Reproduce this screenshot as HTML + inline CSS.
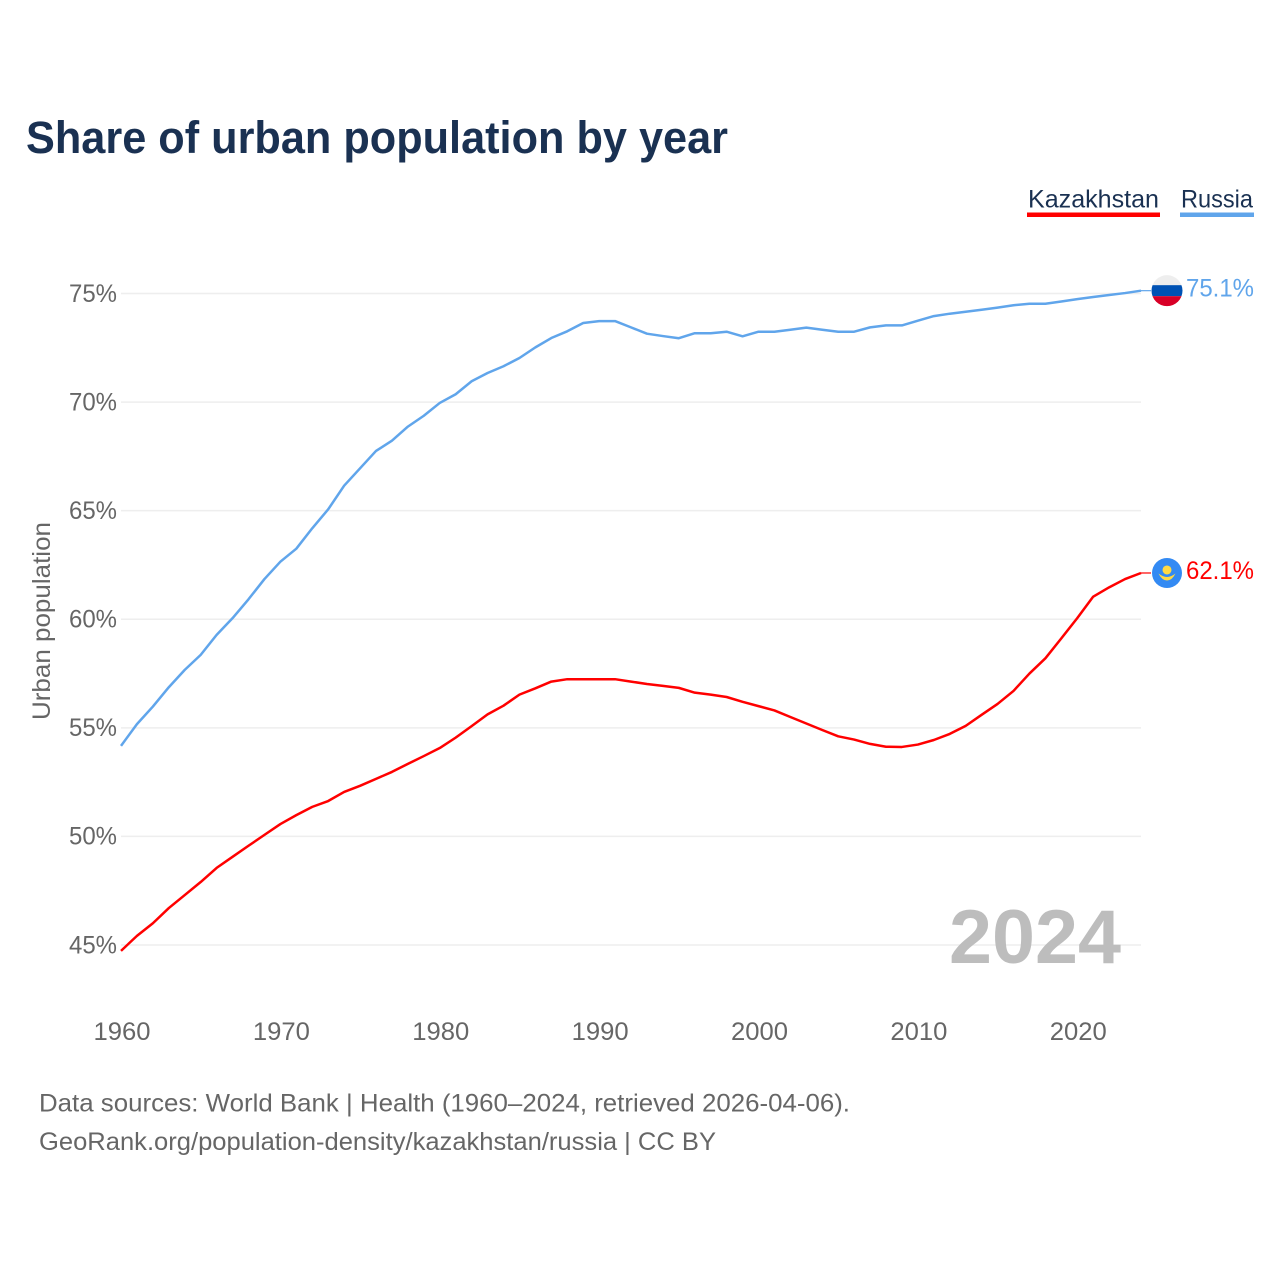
<!DOCTYPE html>
<html lang="en">
<head>
<meta charset="utf-8">
<title>Share of urban population by year</title>
<style>
  html, body { margin: 0; padding: 0; background: #fff; }
  svg { display: block; font-family: "Liberation Sans", sans-serif; }
</style>
</head>
<body>
<svg id="chart" width="1280" height="1280" viewBox="0 0 1280 1280" xmlns="http://www.w3.org/2000/svg">
  <rect x="0" y="0" width="1280" height="1280" fill="#ffffff"/>
  <text x="26" y="153" font-size="45" font-weight="700" fill="#1a3152" textLength="702" lengthAdjust="spacingAndGlyphs">Share of urban population by year</text>

  <g>
    <text x="1028" y="207.5" font-size="25" fill="#1a3152" textLength="131" lengthAdjust="spacingAndGlyphs">Kazakhstan</text>
    <rect x="1027" y="212.5" width="133" height="4.5" fill="#ff0000"/>
  </g>
  <g>
    <text x="1181" y="207.5" font-size="25" fill="#1a3152" textLength="72" lengthAdjust="spacingAndGlyphs">Russia</text>
    <rect x="1180" y="212.5" width="74" height="4.5" fill="#60a5eb"/>
  </g>

  <g id="grid"></g>
  <g id="yticks"></g>
  <g id="xticks"></g>

  <text transform="translate(50,621) rotate(-90)" text-anchor="middle" font-size="25" fill="#666666" textLength="198" lengthAdjust="spacingAndGlyphs">Urban population</text>

  <text x="949" y="963" font-size="76" font-weight="700" fill="#bdbdbd" textLength="172" lengthAdjust="spacingAndGlyphs">2024</text>

  <g id="series"></g>

  <defs>
    <clipPath id="flag-clip"><circle cx="0" cy="0" r="15.5"/></clipPath>
  </defs>

  <g id="flag-russia">
    <g clip-path="url(#flag-clip)">
      <rect x="-16" y="-16" width="32" height="11" fill="#eeeeee"/>
      <rect x="-16" y="-5.5" width="32" height="11" fill="#0052b4"/>
      <rect x="-16" y="5.5" width="32" height="11" fill="#d80027"/>
    </g>
  </g>
  <g id="flag-kazakhstan">
    <circle cx="0" cy="0" r="15" fill="#338af3"/>
    <circle cx="0" cy="-3" r="4.5" fill="#ffda44"/>
    <path d="M-8.5 0.5 Q-5 7.5 0 7.5 Q5 7.5 8.5 0.5 Q4 4 0 4 Q-4 4 -8.5 0.5 Z" fill="#ffda44"/>
  </g>

  <text id="value-russia" x="1254" text-anchor="end" font-size="25" fill="#60a5eb" textLength="68" lengthAdjust="spacingAndGlyphs"></text>
  <text id="value-kazakhstan" x="1254" text-anchor="end" font-size="25" fill="#ff0000" textLength="68" lengthAdjust="spacingAndGlyphs"></text>

  <text x="39" y="1111.5" font-size="25" fill="#666666" textLength="811" lengthAdjust="spacingAndGlyphs">Data sources: World Bank | Health (1960–2024, retrieved 2026-04-06).</text>
  <text x="39" y="1150" font-size="25" fill="#666666" textLength="677" lengthAdjust="spacingAndGlyphs">GeoRank.org/population-density/kazakhstan/russia | CC BY</text>
</svg>

<script>
const firstYear = 1960;
const xTickLabels = [1960, 1970, 1980, 1990, 2000, 2010, 2020];
const yTickLabels = [45, 50, 55, 60, 65, 70, 75];
const russiaValues = [
  54.17, 55.17, 55.98, 56.87, 57.67, 58.36, 59.28, 60.05, 60.92, 61.85,
  62.65, 63.25, 64.19, 65.06, 66.15, 66.95, 67.75, 68.22, 68.87, 69.37,
  69.96, 70.36, 70.96, 71.34, 71.65, 72.03, 72.52, 72.95, 73.26, 73.64,
  73.73, 73.73, 73.44, 73.15, 73.04, 72.94, 73.17, 73.17, 73.24, 73.03,
  73.24, 73.24, 73.33, 73.43, 73.33, 73.24, 73.24, 73.44, 73.53, 73.53,
  73.75, 73.96, 74.07, 74.16, 74.25, 74.35, 74.46, 74.53, 74.53, 74.63,
  74.74, 74.84, 74.93, 75.02, 75.13
];
const kazakhstanValues = [
  44.73, 45.42, 46.0, 46.7, 47.3, 47.9, 48.55, 49.06, 49.57, 50.07,
  50.57, 50.98, 51.36, 51.63, 52.05, 52.33, 52.65, 52.97, 53.34, 53.7,
  54.07, 54.55, 55.08, 55.62, 56.02, 56.53, 56.82, 57.13, 57.24, 57.24,
  57.24, 57.24, 57.13, 57.02, 56.93, 56.84, 56.62, 56.53, 56.42, 56.2,
  56.0, 55.8, 55.5, 55.2, 54.9, 54.61, 54.46, 54.26, 54.13, 54.12,
  54.23, 54.44, 54.72, 55.09, 55.6, 56.1, 56.7, 57.5, 58.2, 59.12,
  60.05, 61.04, 61.47, 61.85, 62.13
];

const SVG_NS = 'http://www.w3.org/2000/svg';
function x(year) { return 121 + (year - 1960) * (1020 / 64); }
function y(value) { return 293.5 + (75 - value) * (651.5 / 30); }
function make(tag, parent) {
  const el = document.createElementNS(SVG_NS, tag);
  parent.appendChild(el);
  return el;
}

const grid = document.getElementById('grid');
const yticks = document.getElementById('yticks');
const xticks = document.getElementById('xticks');
const series = document.getElementById('series');

yTickLabels.forEach(function (v) {
  const line = make('line', grid);
  
  
  line.setAttribute('x1', 121);
  line.setAttribute('x2', 1141);
  line.setAttribute('y1', y(v));
  line.setAttribute('y2', y(v));
  line.setAttribute('stroke', '#eeeeee');
  line.setAttribute('stroke-width', '1.5');

  const label = make('text', yticks);
  
  
  label.setAttribute('x', 117);
  label.setAttribute('y', y(v) + 8.3);
  label.setAttribute('text-anchor', 'end');
  label.setAttribute('font-size', '25');
  label.setAttribute('fill', '#666666');
  label.setAttribute('textLength', '48');
  label.setAttribute('lengthAdjust', 'spacingAndGlyphs');
  label.textContent = v + '%';
});

xTickLabels.forEach(function (yr) {
  const label = make('text', xticks);
  
  
  label.setAttribute('x', x(yr) + 1);
  label.setAttribute('y', 1040);
  label.setAttribute('text-anchor', 'middle');
  label.setAttribute('font-size', '25');
  label.setAttribute('fill', '#666666');
  label.setAttribute('textLength', '57');
  label.setAttribute('lengthAdjust', 'spacingAndGlyphs');
  label.textContent = yr;
});

function drawSeries(values, color, key) {
  const pts = values.map(function (v, i) {
    return x(firstYear + i).toFixed(2) + ',' + y(v).toFixed(2);
  }).join(' ');
  const last = values[values.length - 1];
  const lastYear = firstYear + values.length - 1;

  const line = make('polyline', series);
  
  
  line.setAttribute('points', pts);
  line.setAttribute('fill', 'none');
  line.setAttribute('stroke', color);
  line.setAttribute('stroke-width', '2.5');
  line.setAttribute('stroke-linejoin', 'round');

  const connector = make('line', series);
  
  
  connector.setAttribute('x1', x(lastYear));
  connector.setAttribute('x2', x(lastYear) + 10);
  connector.setAttribute('y1', y(last));
  connector.setAttribute('y2', y(last));
  connector.setAttribute('stroke', color);
  connector.setAttribute('stroke-width', '1.2');

  document.getElementById('flag-' + key).setAttribute('transform', 'translate(1167,' + y(last).toFixed(2) + ')');
  const label = document.getElementById('value-' + key);
  label.setAttribute('y', y(last) + 6);
  label.textContent = last.toFixed(1) + '%';
}

drawSeries(russiaValues, '#60a5eb', 'russia');
drawSeries(kazakhstanValues, '#ff0000', 'kazakhstan');
</script>
</body>
</html>
